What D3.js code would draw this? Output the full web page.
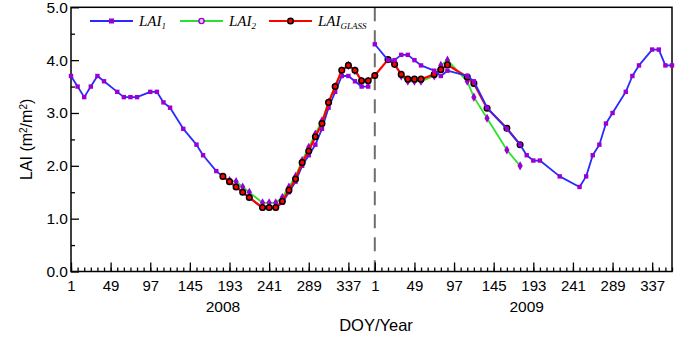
<!DOCTYPE html>
<html>
<head>
<meta charset="utf-8">
<script src="https://cdn.jsdelivr.net/npm/d3@7"></script>
<style>
  body { margin: 0; background: #fff; }
  svg { display: block; font-family: "Liberation Sans", Arial, sans-serif; }
  .legend-text { font-family: "Liberation Serif", "Times New Roman", serif; font-style: italic; }
</style>
</head>
<body>
<div id="chart"></div>
<script>
/**
 * DATA
 * x is the 8-day composite number counted from 2008 DOY 1 (46 per year)
 * */
const years = ["2008", "2009"];
const periodsPerYear = 46;
const doyTicks = [1, 49, 97, 145, 193, 241, 289, 337];
const yTicks = [0, 1, 2, 3, 4, 5];

const lai1Period = [0, 1, 2, 3, 4, 5, 7, 8, 9, 10, 12, 13, 14, 15, 17, 19, 20, 22, 23, 24, 25, 26, 27, 29, 30, 31,
  32, 33, 34, 35, 36, 37, 38, 39, 40, 41, 42, 43, 44, 45,
  46, 48, 49, 50, 51, 52, 53, 55, 56, 57, 60, 61, 63, 66, 68, 69, 70, 71, 74, 77, 78, 79, 80, 81, 82, 84, 85,
  86, 88, 89, 90, 91];
const lai1Value = [3.7, 3.5, 3.3, 3.5, 3.7, 3.6, 3.4, 3.3, 3.3, 3.3, 3.4, 3.4, 3.2, 3.1, 2.7, 2.4, 2.2, 1.9, 1.8, 1.7, 1.6, 1.5, 1.4, 1.2, 1.2, 1.2,
  1.3, 1.5, 1.7, 2.0, 2.2, 2.4, 2.7, 3.1, 3.4, 3.7, 3.7, 3.6, 3.5, 3.5,
  4.3, 4.0, 4.0, 4.1, 4.1, 4.0, 3.9, 3.8, 3.7, 3.8, 3.7, 3.6, 3.1, 2.7, 2.4, 2.2, 2.1, 2.1, 1.8, 1.6, 1.8, 2.2, 2.4, 2.8, 3.0, 3.4, 3.7,
  3.9, 4.2, 4.2, 3.9, 3.9];

const lai2Period = [24, 25, 26, 27, 29, 30, 31, 32, 33, 34, 35, 36, 37, 38, 39, 40, 41, 42, 43, 44, 45,
  50, 51, 52, 53, 55, 56, 57, 60, 61, 63, 66, 68];
const lai2Value = [1.72, 1.7, 1.6, 1.5, 1.3, 1.3, 1.3, 1.4, 1.6, 1.8, 2.1, 2.35, 2.6, 2.85, 3.2, 3.5, 3.8, 3.9, 3.8, 3.6, 3.6,
  3.7, 3.6, 3.6, 3.6, 3.7, 3.9, 4.0, 3.6, 3.3, 2.9, 2.3, 2.0];

const glassPeriod = [23, 24, 25, 26, 27, 29, 30, 31, 32, 33, 34, 35, 36, 37, 38, 39, 40, 41, 42, 43, 44, 45,
  46, 48, 49, 50, 51, 52, 53, 55, 56, 57, 60, 61, 63, 66, 68];
const glassValue = [1.8, 1.7, 1.6, 1.5, 1.4, 1.21, 1.21, 1.21, 1.33, 1.54, 1.75, 2.06, 2.28, 2.55, 2.8, 3.2, 3.5, 3.81, 3.9, 3.81, 3.61, 3.61,
  3.71, 4.01, 3.92, 3.73, 3.64, 3.64, 3.64, 3.73, 3.82, 3.91, 3.68, 3.56, 3.09, 2.71, 2.4];

/**
 * CONSTANTS
 * */
const width = 690,
  height = 339,
  margin = { top: 7.3, bottom: 67.5, left: 71, right: 18 };

const blue = "#2a2aff", green = "#2ee02e", red = "#ff0000", purple = "#9a00d6";

const svg = d3.select("#chart").append("svg")
  .attr("width", width)
  .attr("height", height);

const xScale = d3.scaleLinear()
  .domain([0, 2 * periodsPerYear - 1])
  .range([margin.left, width - margin.right]);

const yScale = d3.scaleLinear()
  .domain([0, 5])
  .range([height - margin.bottom, margin.top]);

// year separator
svg.append("line")
  .attr("x1", xScale(periodsPerYear)).attr("x2", xScale(periodsPerYear))
  .attr("y1", yScale(5)).attr("y2", yScale(0))
  .attr("stroke", "#6e6e6e")
  .attr("stroke-width", 2)
  .attr("stroke-dasharray", "14,9");

// AXES
const majorTicks = [], minorTicks = [];
for (let y = 0; y < years.length; y++) {
  doyTicks.forEach(d => majorTicks.push(y * periodsPerYear + (d - 1) / 8));
  for (let i = 0; i < periodsPerYear; i++) minorTicks.push(y * periodsPerYear + i);
}

const xMinor = svg.append("g")
  .attr("transform", `translate(0,${yScale(0)})`)
  .call(d3.axisBottom(xScale).tickValues(minorTicks).tickSizeInner(-4).tickSizeOuter(0).tickFormat(""));
xMinor.select(".domain").remove();

const xAxis = svg.append("g")
  .attr("transform", `translate(0,${yScale(0)})`)
  .call(d3.axisBottom(xScale)
    .tickValues(majorTicks)
    .tickSizeInner(-9)
    .tickSizeOuter(0)
    .tickPadding(8.5)
    .tickFormat(d => (d % periodsPerYear) * 8 + 1))
  .attr("font-family", null)
  .attr("font-size", 15);
xAxis.select(".domain").remove();
xAxis.selectAll("text").attr("fill", "#000");

const yMinor = svg.append("g")
  .attr("transform", `translate(${margin.left},0)`)
  .call(d3.axisLeft(yScale).tickValues(d3.range(0.5, 5, 1)).tickSizeInner(-4).tickSizeOuter(0).tickFormat(""));
yMinor.select(".domain").remove();

const yAxis = svg.append("g")
  .attr("transform", `translate(${margin.left},0)`)
  .call(d3.axisLeft(yScale)
    .tickValues(yTicks)
    .tickSizeInner(-8)
    .tickSizeOuter(0)
    .tickPadding(3)
    .tickFormat(d3.format(".1f")))
  .attr("font-family", null)
  .attr("font-size", 15.5);
yAxis.select(".domain").remove();
yAxis.selectAll("text").attr("fill", "#000");

svg.selectAll(".tick line").attr("stroke", "#000").attr("stroke-width", 1.3);

// frame
svg.append("rect")
  .attr("x", xScale(0)).attr("y", yScale(5))
  .attr("width", xScale(2 * periodsPerYear - 1) - xScale(0))
  .attr("height", yScale(0) - yScale(5))
  .attr("fill", "none")
  .attr("stroke", "#000")
  .attr("stroke-width", 1.5);

// year labels and axis titles
svg.selectAll(".year-label")
  .data(years)
  .join("text")
  .attr("class", "year-label")
  .attr("x", (d, i) => xScale(i * periodsPerYear + 23))
  .attr("y", 311.5)
  .attr("text-anchor", "middle")
  .attr("font-size", 15.5)
  .text(d => d);

svg.append("text")
  .attr("x", 376)
  .attr("y", 331)
  .attr("text-anchor", "middle")
  .attr("font-size", 16.5)
  .text("DOY/Year");

svg.append("text")
  .attr("transform", `translate(32,${(yScale(0) + yScale(5)) / 2}) rotate(-90)`)
  .attr("text-anchor", "middle")
  .attr("font-size", 16)
  .html("LAI (m<tspan baseline-shift='super' font-size='10'>2</tspan>/m<tspan baseline-shift='super' font-size='10'>2</tspan>)");

// SERIES
const lineGen = d3.line()
  .x(d => xScale(d.x))
  .y(d => yScale(d.y));

const toPoints = (xs, ys) => xs.map((x, i) => ({ x: x, y: ys[i] }));

function drawLine(points, color, w) {
  svg.append("path")
    .datum(points)
    .attr("d", lineGen)
    .attr("fill", "none")
    .attr("stroke", color)
    .attr("stroke-width", w)
    .attr("stroke-linejoin", "round");
}

function drawSquares(points) {
  svg.append("g").selectAll("rect")
    .data(points)
    .join("rect")
    .attr("x", d => xScale(d.x) - 2.2)
    .attr("y", d => yScale(d.y) - 2.2)
    .attr("width", 4.4).attr("height", 4.4)
    .attr("fill", purple);
}

const lai1 = toPoints(lai1Period, lai1Value);
const lai2 = toPoints(lai2Period, lai2Value);
const glass = toPoints(glassPeriod, glassValue);
const inFirstYear = d => d.x < periodsPerYear;

// LAI1, first year (drawn under the others)
drawLine(lai1.filter(inFirstYear), blue, 1.8);
drawSquares(lai1.filter(inFirstYear));

// LAI2, one line per year
drawLine(lai2.filter(inFirstYear), green, 1.8);
drawLine(lai2.filter(d => !inFirstYear(d)), green, 1.8);
svg.append("g").selectAll("path")
  .data(lai2)
  .join("path")
  .attr("transform", d => `translate(${xScale(d.x)},${yScale(d.y)})`)
  .attr("d", d3.symbol(d3.symbolDiamond, 24))
  .attr("fill", purple);

// GLASS
drawLine(glass, red, 2.2);
svg.append("g").selectAll("circle")
  .data(glass)
  .join("circle")
  .attr("cx", d => xScale(d.x))
  .attr("cy", d => yScale(d.y))
  .attr("r", 2.8)
  .attr("fill", red)
  .attr("stroke", "#000")
  .attr("stroke-width", 1.5);

// LAI1, second year (on top)
drawLine(lai1.filter(d => !inFirstYear(d)), blue, 1.8);
drawSquares(lai1.filter(d => !inFirstYear(d)));

// LEGEND
const legendY = 21;
const legend = svg.append("g");

function legendItem(x0, color, marker, label, sub) {
  legend.append("line")
    .attr("x1", x0).attr("x2", x0 + 43)
    .attr("y1", legendY).attr("y2", legendY)
    .attr("stroke", color).attr("stroke-width", 2);
  const cx = x0 + 21.5;
  if (marker === "square") {
    legend.append("rect").attr("x", cx - 2.5).attr("y", legendY - 2.5)
      .attr("width", 5).attr("height", 5).attr("fill", purple);
  } else if (marker === "ring") {
    legend.append("circle").attr("cx", cx).attr("cy", legendY).attr("r", 2.6)
      .attr("fill", "#e8c8f0").attr("stroke", purple).attr("stroke-width", 1.4);
  } else {
    legend.append("circle").attr("cx", cx).attr("cy", legendY).attr("r", 2.8)
      .attr("fill", red).attr("stroke", "#000").attr("stroke-width", 1.5);
  }
  const t = legend.append("text")
    .attr("class", "legend-text")
    .attr("x", x0 + 49).attr("y", legendY + 5)
    .attr("font-size", 15);
  t.append("tspan").text(label);
  t.append("tspan").attr("font-size", 9).attr("dy", 3).text(sub);
}

legendItem(90, blue, "square", "LAI", "1");
legendItem(180, green, "ring", "LAI", "2");
legendItem(269, red, "circle", "LAI", "GLASS");
</script>
</body>
</html>
